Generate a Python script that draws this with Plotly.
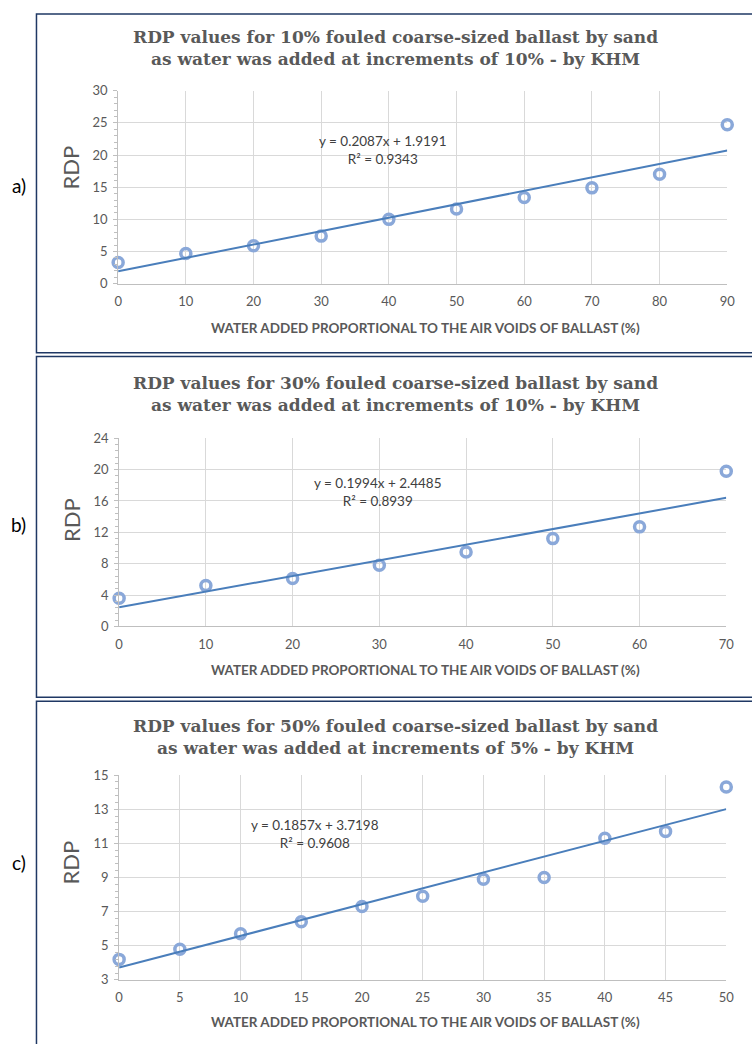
import plotly.graph_objects as go

W, H = 752, 1044

# ---------------- data ----------------
x_a = [0, 10, 20, 30, 40, 50, 60, 70, 80, 90]
rdp_a = [3.3, 4.7, 5.9, 7.4, 10.0, 11.6, 13.4, 14.9, 17.0, 24.7]
slope_a, intercept_a, r2_a = 0.2087, 1.9191, 0.9343

x_b = [0, 10, 20, 30, 40, 50, 60, 70]
rdp_b = [3.6, 5.2, 6.1, 7.8, 9.5, 11.2, 12.7, 19.8]
slope_b, intercept_b, r2_b = 0.1994, 2.4485, 0.8939

x_c = [0, 5, 10, 15, 20, 25, 30, 35, 40, 45, 50]
rdp_c = [4.2, 4.8, 5.7, 6.4, 7.3, 7.9, 8.9, 9.0, 11.3, 11.7, 14.3]
slope_c, intercept_c, r2_c = 0.1857, 3.7198, 0.9608

titles = [
    "RDP values for 10% fouled coarse-sized ballast by sand<br>as water was added at increments of 10% - by KHM",
    "RDP values for 30% fouled coarse-sized ballast by sand<br>as water was added at increments of 10% - by KHM",
    "RDP values for 50% fouled coarse-sized ballast by sand<br>as water was added at increments of 5% - by KHM",
]
panel_labels = ["a)", "b)", "c)"]
x_title = "WATER ADDED PROPORTIONAL TO THE AIR VOIDS OF BALLAST (%)"
y_title = "RDP"

# ---------------- layout helpers (window pixel based) ----------------
def px(xp):
    return xp / W

def py(yp):
    return 1 - yp / H

panels = [
    dict(x=x_a, y=rdp_a, s=slope_a, b=intercept_a, r2=r2_a,
         xr=[0, 90], xd=10, yr=[0, 30], yd=5,
         plot_x=(116, 735), plot_y=(84, 280),
         box=(6, 350), title_y=41, lab_y=180, rdp_y=162,
         eq=(385, 125), xtl=325),
    dict(x=x_b, y=rdp_b, s=slope_b, b=intercept_b, r2=r2_b,
         xr=[0, 70], xd=10, yr=[0, 24], yd=4,
         plot_x=(117, 734), plot_y=(437, 628),
         box=(354, 700), title_y=392, lab_y=525, rdp_y=520,
         eq=(380, 472), xtl=672),
    dict(x=x_c, y=rdp_c, s=slope_c, b=intercept_c, r2=r2_c,
         xr=[0, 50], xd=5, yr=[3, 15], yd=2,
         plot_x=(117, 734), plot_y=(779, 987),
         box=(704, 1060), title_y=740, lab_y=868, rdp_y=868,
         eq=(316, 820), xtl=1030),
]

fig = go.Figure()
TICK_FONT = dict(family="Lato, Open Sans, sans-serif", size=13, color="#595959")
MARKER_COLOR = "#8aa8d9"
LINE_COLOR = "#4a7ebb"

shapes = []
annotations = []
for i, p in enumerate(panels):
    k = "" if i == 0 else str(i + 1)
    xa, ya = "x" + k, "y" + k
    # data points
    fig.add_trace(go.Scatter(
        x=p["x"], y=p["y"], mode="markers", xaxis=xa, yaxis=ya,
        marker=dict(symbol="circle-open", size=10, color=MARKER_COLOR,
                    line=dict(width=3.5, color=MARKER_COLOR)),
        showlegend=False, hoverinfo="x+y", cliponaxis=False))
    # linear trendline from the fitted equation
    tx = [p["x"][0], p["x"][-1]]
    ty = [p["s"] * v + p["b"] for v in tx]
    fig.add_trace(go.Scatter(
        x=tx, y=ty, mode="lines", xaxis=xa, yaxis=ya,
        line=dict(color=LINE_COLOR, width=2), showlegend=False,
        hoverinfo="skip"))

    fig.update_layout(**{
        "xaxis" + k: dict(
            domain=[px(p["plot_x"][0]), px(p["plot_x"][1])],
            range=p["xr"], dtick=p["xd"], tick0=0, anchor=ya,
            showgrid=True, gridcolor="#d9d9d9", gridwidth=1,
            showline=True, linecolor="#bfbfbf", linewidth=1,
            zeroline=False, ticks="", tickfont=TICK_FONT,
            ticklabelstandoff=6, fixedrange=True),
        "yaxis" + k: dict(
            domain=[py(p["plot_y"][1]), py(p["plot_y"][0])],
            range=p["yr"], dtick=p["yd"], tick0=p["yr"][0], anchor=xa,
            showgrid=True, gridcolor="#d9d9d9", gridwidth=1,
            showline=True, linecolor="#bfbfbf", linewidth=1,
            zeroline=False, ticks="outside", ticklen=4, tickcolor="#bfbfbf",
            tickfont=TICK_FONT, ticklabelstandoff=3,
            minor=dict(dtick=p["yd"] / 5, tick0=p["yr"][0], ticks="outside",
                       ticklen=3, tickcolor="#bfbfbf", showgrid=False),
            fixedrange=True),
    })

    # panel border
    shapes.append(dict(type="rect", xref="paper", yref="paper",
                       x0=px(33), x1=px(800), y0=py(p["box"][1]), y1=py(p["box"][0]),
                       line=dict(color="#1f3864", width=1.5), layer="above"))
    # title
    annotations.append(dict(text="<b>" + titles[i] + "</b>", xref="paper", yref="paper",
                            x=px(398), y=py(p["title_y"]), xanchor="center", yanchor="middle",
                            showarrow=False, align="center",
                            font=dict(family="DejaVu Serif, serif",
                                      size=17, color="#595959")))
    # x axis title
    annotations.append(dict(text="<b>" + x_title + "</b>", xref="paper", yref="paper",
                            x=px(428), y=py(p["xtl"]), xanchor="center", yanchor="middle",
                            showarrow=False,
                            font=dict(family="Lato, sans-serif", size=13.5, color="#595959")))
    # y axis title
    annotations.append(dict(text=y_title, xref="paper", yref="paper",
                            x=px(68), y=py(p["rdp_y"]), xanchor="center", yanchor="middle",
                            textangle=-90, showarrow=False,
                            font=dict(family="Lato, sans-serif", size=22, color="#595959")))
    # panel label
    annotations.append(dict(text=panel_labels[i], xref="paper", yref="paper",
                            x=px(15), y=py(p["lab_y"]), xanchor="center", yanchor="middle",
                            showarrow=False,
                            font=dict(family="Lato, sans-serif", size=19, color="#000000")))
    # equation
    annotations.append(dict(text=f"y = {p['s']:.4f}x + {p['b']:.4f}<br>R² = {p['r2']:.4f}",
                            xref="paper", yref="paper",
                            x=px(p["eq"][0]), y=py(p["eq"][1]), xanchor="center", yanchor="top",
                            showarrow=False, align="center",
                            font=dict(family="Lato, sans-serif", size=13.5, color="#404040")))

fig.update_layout(width=W, height=H, margin=dict(l=0, r=0, t=0, b=0),
                  paper_bgcolor="white", plot_bgcolor="white",
                  shapes=shapes, annotations=annotations)

fig.write_html("out.html",
               config={"displayModeBar": False},
               post_script="document.body.style.margin='0';"
                           "document.body.style.overflow='hidden';"
                           "document.documentElement.style.overflow='hidden';")
